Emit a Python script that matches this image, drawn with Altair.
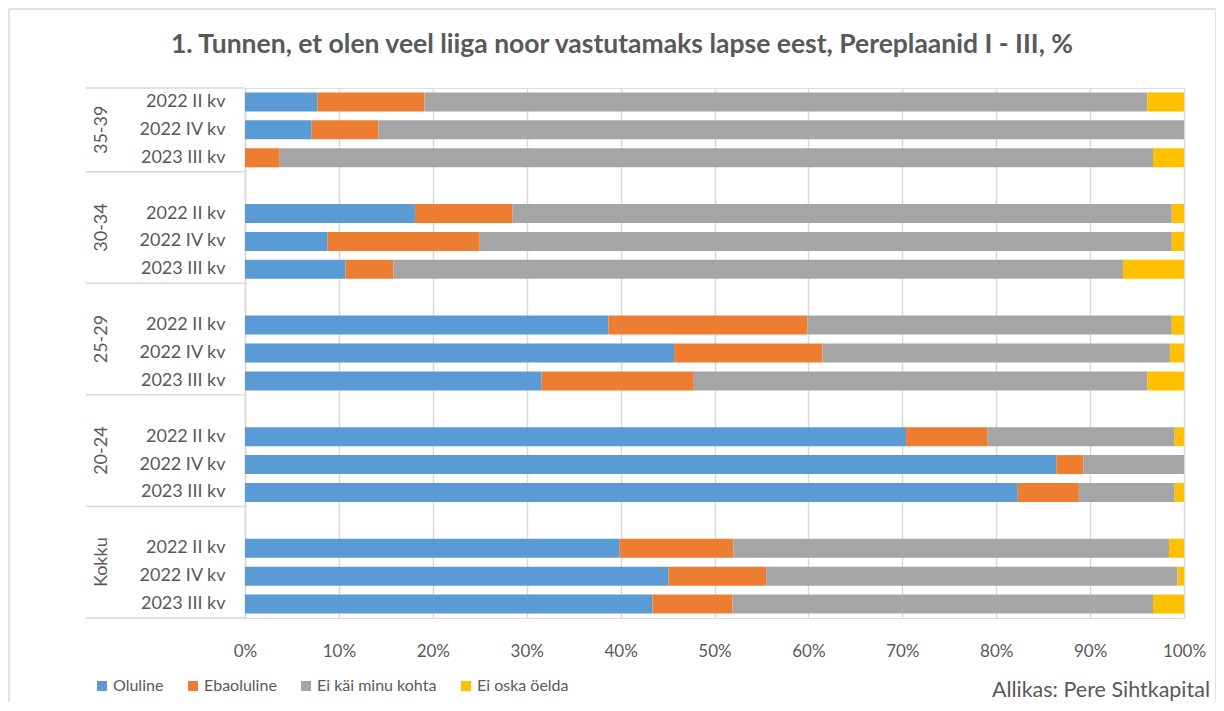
import altair as alt
import pandas as pd

# ---------------- data ----------------
groups = ["35-39", "30-34", "25-29", "20-24", "Kokku"]
periods = ["2022 II kv", "2022 IV kv", "2023 III kv"]
series = ["Oluline", "Ebaoluline", "Ei käi minu kohta", "Ei oska öelda"]
colors = ["#5B9BD5", "#ED7D31", "#A5A5A5", "#FFC000"]

# values per bar, order: group by group, periods within group
oluline = [7.7, 7.1, 0.0, 18.1, 8.8, 10.7, 38.7, 45.7, 31.6, 70.4, 86.4, 82.3, 39.9, 45.1, 43.4]
ebaoluline = [11.4, 7.1, 3.7, 10.4, 16.2, 5.1, 21.2, 15.8, 16.2, 8.7, 2.9, 6.5, 12.1, 10.4, 8.5]
ei_kai = [77.0, 85.8, 93.0, 70.2, 73.7, 77.7, 38.8, 37.0, 48.3, 19.9, 10.7, 10.2, 46.4, 43.8, 44.8]
ei_oska = [3.9, 0.0, 3.3, 1.3, 1.3, 6.5, 1.3, 1.5, 3.9, 1.0, 0.0, 1.0, 1.6, 0.7, 3.3]

x_ticks = [0, 10, 20, 30, 40, 50, 60, 70, 80, 90, 100]

TITLE = "1. Tunnen, et olen veel liiga noor vastutamaks lapse eest, Pereplaanid I - III, %"
SOURCE = "Allikas: Pere Sihtkapital"

# ---------------- build tables ----------------
values_by_series = [oluline, ebaoluline, ei_kai, ei_oska]
rows = []
domain = []
for gi, g in enumerate(groups):
    if gi > 0:
        domain.append(f"gap{gi}")
    for pi, p in enumerate(periods):
        key = f"{g}|{p}"
        domain.append(key)
        idx = gi * 3 + pi
        for si, s in enumerate(series):
            v = values_by_series[si][idx]
            if v > 0:
                rows.append({"key": key, "series": s, "ord": si, "value": v})
df = pd.DataFrame(rows)

FONT = "Lato"
TXT = "#595959"
GRID = "#D9D9D9"

y_axis = alt.Axis(
    labelExpr="indexof(datum.value, '|') >= 0 ? split(datum.value, '|')[1] : ''",
    domain=True, domainColor=GRID, domainWidth=1.5, ticks=False, grid=False,
    labelPadding=20, labelFontSize=18, labelColor=TXT, labelFont=FONT, title=None,
)
y_scale = alt.Scale(domain=domain, paddingInner=0, paddingOuter=0)

bars = alt.Chart(df).mark_bar(size=19).encode(
    x=alt.X(
        "value:Q", stack="zero",
        scale=alt.Scale(domain=[0, 100], nice=False),
        axis=alt.Axis(
            values=x_ticks, labelExpr="datum.value + '%'", grid=True,
            gridColor=GRID, gridWidth=1.5, domain=False, ticks=False,
            labelFlush=False, labelPadding=25, labelFontSize=17,
            labelColor=TXT, labelFont=FONT, title=None,
        ),
    ),
    y=alt.Y("key:N", scale=y_scale, axis=y_axis),
    color=alt.Color(
        "series:N",
        scale=alt.Scale(domain=series, range=colors),
        legend=alt.Legend(
            title=None, orient="none", legendX=-151, legendY=590,
            direction="horizontal", columns=4, symbolType="square",
            symbolSize=100, symbolStrokeWidth=0, labelFontSize=16,
            labelColor=TXT, labelFont=FONT, columnPadding=21, labelOffset=3,
            padding=0,
        ),
    ),
    order=alt.Order("ord:Q", sort="ascending"),
)

# separators of the group axis
sep_df = pd.DataFrame({"key": [domain[0]] + [d for d in domain if d.startswith("gap")]})
seps = alt.Chart(sep_df).mark_rule(color=GRID, strokeWidth=1.5).encode(
    y=alt.Y("key:N", bandPosition=0, scale=y_scale, axis=y_axis),
    x=alt.value(-159), x2=alt.value(0),
)
bottom_df = pd.DataFrame({"key": [domain[-1]]})
sep_bottom = alt.Chart(bottom_df).mark_rule(color=GRID, strokeWidth=1.5).encode(
    y=alt.Y("key:N", bandPosition=1, scale=y_scale, axis=y_axis),
    x=alt.value(-159), x2=alt.value(0),
)

# group labels (rotated)
g1_df = pd.DataFrame({"key": [f"{groups[0]}|{periods[1]}"], "label": [groups[0]]})
g2_df = pd.DataFrame({"key": [f"{g}|{periods[1]}" for g in groups[1:]], "label": groups[1:]})
glab1 = alt.Chart(g1_df).mark_text(
    angle=270, font=FONT, fontSize=18, color=TXT, align="center", baseline="middle"
).encode(
    y=alt.Y("key:N", bandPosition=0.5, scale=y_scale, axis=y_axis),
    x=alt.value(-143), text="label:N",
)
glab2 = alt.Chart(g2_df).mark_text(
    angle=270, font=FONT, fontSize=18, color=TXT, align="center", baseline="middle"
).encode(
    y=alt.Y("key:N", bandPosition=0, scale=y_scale, axis=y_axis),
    x=alt.value(-143), text="label:N",
)

title = alt.Chart(pd.DataFrame({"t": [TITLE]})).mark_text(
    font=FONT, fontSize=26.5, fontWeight="bold", color=TXT, align="center",
    baseline="alphabetic",
).encode(text="t:N", x=alt.value(377), y=alt.value(-35))

source = alt.Chart(pd.DataFrame({"t": [SOURCE]})).mark_text(
    font=FONT, fontSize=21.5, color=TXT, align="right", baseline="middle",
).encode(text="t:N", x=alt.value(965), y=alt.value(603))

border = alt.Chart(pd.DataFrame({"a": [0]})).mark_rect(
    fillOpacity=0, stroke=GRID, strokeWidth=1.5
).encode(x=alt.value(-236), x2=alt.value(971), y=alt.value(-79), y2=alt.value(615))

chart = alt.layer(border, bars, seps, sep_bottom, glab1, glab2, title, source).properties(
    width=939, height=530, autosize="none",
    padding={"left": 237, "top": 80, "right": 32, "bottom": 84},
).configure_view(strokeWidth=0).configure(background="white")

chart.save("out.html", embed_options={"renderer": "svg", "actions": False})
